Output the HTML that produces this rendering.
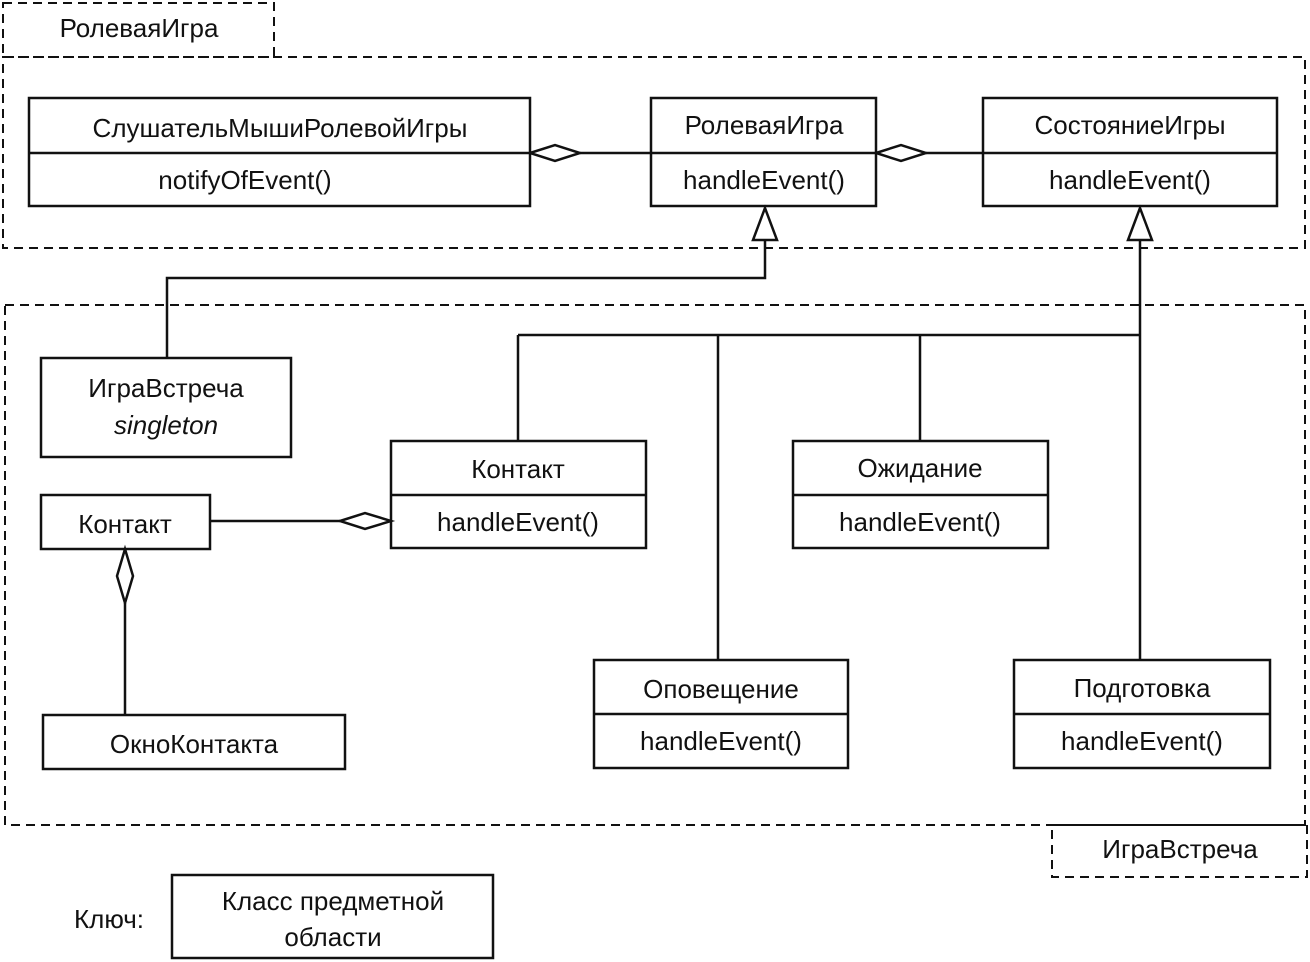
<!DOCTYPE html>
<html><head><meta charset="utf-8"><style>
html,body{margin:0;padding:0;background:#fff;}
svg{display:block;font-family:"Liberation Sans",Arial,sans-serif;}
text{font-size:26px;fill:#111;}
</style></head><body>
<svg width="1310" height="962" viewBox="0 0 1310 962" xmlns="http://www.w3.org/2000/svg">
<g fill="none" stroke="#111" stroke-width="2" stroke-dasharray="9,6">
<rect x="3" y="3" width="271" height="54"/>
<rect x="3" y="57" width="1302" height="191"/>
<rect x="5" y="305" width="1300" height="520"/>
<rect x="1052" y="825" width="255" height="52"/>
</g>
<g fill="#fff" stroke="#111" stroke-width="2.5">
<rect x="29" y="98" width="501" height="108"/><line x1="29" y1="153" x2="530" y2="153"/>
<rect x="651" y="98" width="225" height="108"/><line x1="651" y1="153" x2="876" y2="153"/>
<rect x="983" y="98" width="294" height="108"/><line x1="983" y1="153" x2="1277" y2="153"/>
<rect x="41" y="358" width="250" height="99"/>
<rect x="391" y="441" width="255" height="107"/><line x1="391" y1="495" x2="646" y2="495"/>
<rect x="793" y="441" width="255" height="107"/><line x1="793" y1="495" x2="1048" y2="495"/>
<rect x="41" y="495" width="169" height="54"/>
<rect x="43" y="715" width="302" height="54"/>
<rect x="594" y="660" width="254" height="108"/><line x1="594" y1="714" x2="848" y2="714"/>
<rect x="1014" y="660" width="256" height="108"/><line x1="1014" y1="714" x2="1270" y2="714"/>
<rect x="172" y="875" width="321" height="83"/>
</g>
<g fill="none" stroke="#111" stroke-width="2.5">
<line x1="580" y1="153" x2="651" y2="153"/>
<line x1="926" y1="153" x2="983" y2="153"/>
<polyline points="765,240 765,278 167,278 167,358"/>
<line x1="1140" y1="240" x2="1140" y2="660"/>
<line x1="518" y1="335" x2="1140" y2="335"/>
<line x1="518" y1="335" x2="518" y2="441"/>
<line x1="718" y1="335" x2="718" y2="660"/>
<line x1="920" y1="335" x2="920" y2="441"/>
<line x1="210" y1="521" x2="340" y2="521"/>
<line x1="125" y1="603" x2="125" y2="715"/>
</g>
<g fill="#fff" stroke="#111" stroke-width="2.5">
<polygon points="530,153 555,145 580,153 555,161"/>
<polygon points="876,153 901,145 926,153 901,161"/>
<polygon points="340,521 365,513 391,521 365,529"/>
<polygon points="125,549 133,576 125,603 117,576"/>
<polygon points="765,208 753,240 777,240"/>
<polygon points="1140,208 1128,240 1152,240"/>
</g>
<g text-anchor="middle">
<text x="139" y="37">РолеваяИгра</text>
<text x="280" y="137">СлушательМышиРолевойИгры</text>
<text x="245" y="189">notifyOfEvent()</text>
<text x="764" y="134">РолеваяИгра</text>
<text x="764" y="189">handleEvent()</text>
<text x="1130" y="134">СостояниеИгры</text>
<text x="1130" y="189">handleEvent()</text>
<text x="166" y="397">ИграВстреча</text>
<text x="166" y="434" font-style="italic">singleton</text>
<text x="518" y="478">Контакт</text>
<text x="518" y="531">handleEvent()</text>
<text x="920" y="477">Ожидание</text>
<text x="920" y="531">handleEvent()</text>
<text x="125" y="533">Контакт</text>
<text x="194" y="753">ОкноКонтакта</text>
<text x="721" y="698">Оповещение</text>
<text x="721" y="750">handleEvent()</text>
<text x="1142" y="697">Подготовка</text>
<text x="1142" y="750">handleEvent()</text>
<text x="1180" y="858">ИграВстреча</text>
<text x="333" y="910">Класс предметной</text>
<text x="333" y="946">области</text>
</g>
<text x="74" y="928">Ключ:</text>
</svg>
</body></html>
